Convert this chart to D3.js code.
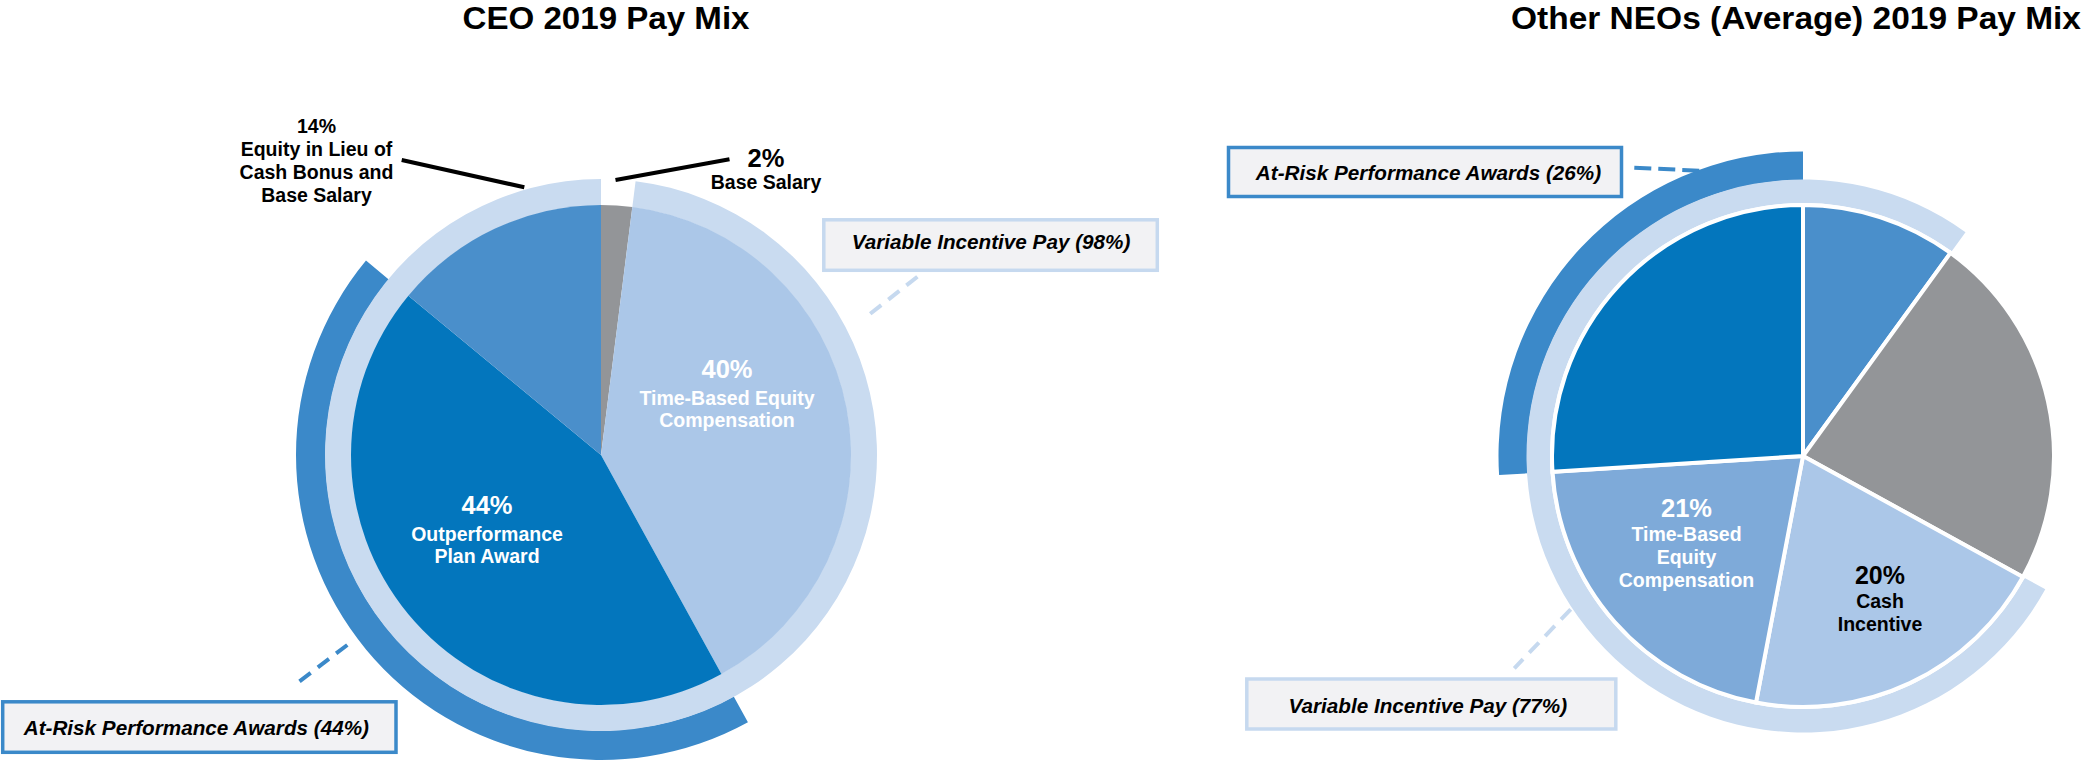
<!DOCTYPE html>
<html><head><meta charset="utf-8">
<script src="https://cdn.jsdelivr.net/npm/d3@7"></script>
<style>
html,body{margin:0;padding:0;background:#fff;}
svg{display:block;font-family:"Liberation Sans",Arial,Helvetica,sans-serif;}
</style>
</head><body>
<svg id="chart" width="2083" height="761"></svg>
<script>
// ---------------- DATA ----------------
const titles = ["CEO 2019 Pay Mix", "Other NEOs (Average) 2019 Pay Mix"];

const ceoCategories = ["Base Salary", "Time-Based Equity Compensation", "Outperformance Plan Award", "Equity in Lieu of Cash Bonus and Base Salary"];
const ceoValues = [2, 40, 44, 14];
const ceoVariableIncentive = ["Time-Based Equity Compensation", "Outperformance Plan Award", "Equity in Lieu of Cash Bonus and Base Salary"];
const ceoAtRisk = ["Outperformance Plan Award"];

const neoCategories = ["Other Equity", "Base Salary", "Cash Incentive", "Time-Based Equity Compensation", "At-Risk Performance Awards"];
const neoValues = [10, 23, 20, 21, 26];
const neoVariableIncentive = ["Cash Incentive", "Time-Based Equity Compensation", "At-Risk Performance Awards", "Other Equity"];
const neoAtRisk = ["At-Risk Performance Awards"];

const ringNames = ["Variable Incentive Pay", "At-Risk Performance Awards"];

// ---------------- STYLE / LAYOUT ----------------
const colors = {
  "Base Salary": "#939598",
  "Time-Based Equity Compensation": "#abc7e8",
  "Outperformance Plan Award": "#0376bd",
  "Equity in Lieu of Cash Bonus and Base Salary": "#4a8fcb",
  "Other Equity": "#4a8fcb",
  "Cash Incentive": "#abc7e8",
  "At-Risk Performance Awards": "#0376bd"
};
const neoColorOverride = {"Time-Based Equity Compensation": "#7eaad9"};
const ringLight = "#c9dbf0", ringDark = "#3b89c9", boxFill = "#f2f2f4", boxLightStroke = "#c6d9ef";

const svg = d3.select("#chart");
svg.append("rect").attr("width", 2083).attr("height", 761).attr("fill", "#fff");

const pie = d3.pie().sort(null).value(d => d.value).startAngle(0).endAngle(2 * Math.PI);

function ringSpan(arcs, covered) {
  const n = arcs.length;
  const isCov = i => covered.includes(arcs[i].data.name);
  let startIdx = -1;
  for (let i = 0; i < n; i++) {
    if (isCov(i) && !isCov((i - 1 + n) % n)) { startIdx = i; break; }
  }
  if (startIdx < 0) startIdx = 0;
  const total = d3.sum(arcs, a => a.data.value);
  const covSum = d3.sum(arcs.filter((a, i) => isCov(i)), a => a.data.value);
  const start = arcs[startIdx].startAngle;
  return {startAngle: start, endAngle: start + covSum / total * 2 * Math.PI, value: covSum};
}

function fmt(v) { return Math.round(v) + "%"; }

function drawChart(cfg) {
  const g = svg.append("g").attr("transform", `translate(${cfg.cx},${cfg.cy})`);
  const data = cfg.categories.map((c, i) => ({name: c, value: cfg.values[i]}));
  const arcs = pie(data);

  // rings
  const light = ringSpan(arcs, cfg.variable);
  const dark = ringSpan(arcs, cfg.atRisk);
  const lightArc = d3.arc().innerRadius(cfg.ringInner).outerRadius(cfg.ringMid);
  const darkArc = d3.arc().innerRadius(cfg.ringMid - 0.5).outerRadius(cfg.ringOuter);
  g.append("path").attr("d", darkArc(dark)).attr("fill", ringDark);
  g.append("path").attr("d", lightArc(light)).attr("fill", ringLight);

  // slices
  const arcGen = d3.arc().innerRadius(0).outerRadius(cfg.r);
  g.selectAll("path.slice").data(arcs).enter().append("path")
    .attr("class", "slice")
    .attr("d", arcGen)
    .attr("fill", d => (cfg.override && cfg.override[d.data.name]) || colors[d.data.name])
    .attr("stroke", cfg.sliceStroke ? "#fff" : "none")
    .attr("stroke-width", cfg.sliceStroke || 0)
    .attr("stroke-linejoin", "miter");

  // title
  svg.append("text").attr("x", cfg.titleX).attr("y", 28.5).attr("text-anchor", "middle")
    .attr("font-size", 31).attr("font-weight", "bold").attr("fill", "#000")
    .attr("textLength", cfg.titleW).attr("lengthAdjust", "spacingAndGlyphs")
    .text(cfg.title);

  // slice labels
  cfg.labels.forEach(L => {
    const arc = arcs.find(a => a.data.name === L.name);
    const t = g.append("text").attr("text-anchor", "middle").attr("font-weight", "bold").attr("fill", L.color);
    t.append("tspan").attr("x", L.dx).attr("y", L.dy).attr("font-size", L.pctSize).text(fmt(arc.data.value));
    L.lines.forEach((ln, k) => {
      t.append("tspan").attr("x", L.dx).attr("y", L.dy + L.firstGap + k * L.lineGap).attr("font-size", 19.5).text(ln);
    });
    if (L.leader) {
      g.append("line").attr("x1", L.leader[0]).attr("y1", L.leader[1]).attr("x2", L.leader[2]).attr("y2", L.leader[3])
        .attr("stroke", "#000").attr("stroke-width", 4);
    }
  });

  // boxes
  const spans = [light, dark];
  cfg.boxes.forEach(B => {
    const span = spans[B.ring];
    const stroke = B.ring === 0 ? boxLightStroke : ringDark;
    g.append("line").attr("x1", B.leader[0]).attr("y1", B.leader[1]).attr("x2", B.leader[2]).attr("y2", B.leader[3])
      .attr("stroke", stroke).attr("stroke-width", 4).attr("stroke-dasharray", B.dash);
    g.append("rect").attr("x", B.x).attr("y", B.y).attr("width", B.w).attr("height", B.h)
      .attr("fill", boxFill).attr("stroke", stroke).attr("stroke-width", 3.5);
    g.append("text").attr("x", B.x + B.w / 2 + B.tdx).attr("y", B.y + B.ty).attr("text-anchor", "middle")
      .attr("font-size", 20.7).attr("font-weight", "bold").attr("font-style", "italic").attr("fill", "#000")
      .text(`${ringNames[B.ring]} (${fmt(span.value)})`);
  });
}

// CEO chart
const ceoCx = 601, ceoCy = 455;
drawChart({
  cx: ceoCx, cy: ceoCy, r: 250, ringInner: 249.5, ringMid: 276, ringOuter: 305,
  title: titles[0], titleX: 606, titleW: 287,
  categories: ceoCategories, values: ceoValues, variable: ceoVariableIncentive, atRisk: ceoAtRisk,
  sliceStroke: 0,
  labels: [
    {name: "Time-Based Equity Compensation", color: "#fff", dx: 727 - ceoCx, dy: 378 - ceoCy, pctSize: 25.5, firstGap: 27, lineGap: 22, lines: ["Time-Based Equity", "Compensation"]},
    {name: "Outperformance Plan Award", color: "#fff", dx: 487 - ceoCx, dy: 514 - ceoCy, pctSize: 25.5, firstGap: 27, lineGap: 22, lines: ["Outperformance", "Plan Award"]},
    {name: "Equity in Lieu of Cash Bonus and Base Salary", color: "#000", dx: 316.5 - ceoCx, dy: 133.3 - ceoCy, pctSize: 19.5, firstGap: 22.8, lineGap: 22.8,
      lines: ["Equity in Lieu of", "Cash Bonus and", "Base Salary"],
      leader: [401.7 - ceoCx, 160 - ceoCy, 524.3 - ceoCx, 187.3 - ceoCy]},
    {name: "Base Salary", color: "#000", dx: 766 - ceoCx, dy: 166.7 - ceoCy, pctSize: 25.5, firstGap: 22.6, lineGap: 22,
      lines: ["Base Salary"],
      leader: [615.5 - ceoCx, 180 - ceoCy, 729.5 - ceoCx, 159.3 - ceoCy]}
  ],
  boxes: [
    {ring: 0, x: 823.8 - ceoCx, y: 219.8 - ceoCy, w: 333.5, h: 50.5, ty: 29.5, tdx: 0.5, dash: "14,9",
      leader: [917.4 - ceoCx, 276.7 - ceoCy, 864.5 - ceoCx, 318.3 - ceoCy]},
    {ring: 1, x: 2.7 - ceoCx, y: 701.8 - ceoCy, w: 393.3, h: 50.5, ty: 33.2, tdx: -3, dash: "14,9",
      leader: [347.3 - ceoCx, 645 - ceoCy, 293.3 - ceoCx, 686 - ceoCy]}
  ]
});

// NEO chart
const neoCx = 1803, neoCy = 456;
drawChart({
  cx: neoCx, cy: neoCy, r: 251, ringInner: 253, ringMid: 276.5, ringOuter: 304.5,
  title: titles[1], titleX: 1796, titleW: 570,
  categories: neoCategories, values: neoValues, variable: neoVariableIncentive, atRisk: neoAtRisk,
  sliceStroke: 4, override: neoColorOverride,
  labels: [
    {name: "Time-Based Equity Compensation", color: "#fff", dx: 1686.5 - neoCx, dy: 516.7 - neoCy, pctSize: 25.5, firstGap: 24.3, lineGap: 23.2, lines: ["Time-Based", "Equity", "Compensation"]},
    {name: "Cash Incentive", color: "#000", dx: 1880 - neoCx, dy: 584 - neoCy, pctSize: 25, firstGap: 23.7, lineGap: 23, lines: ["Cash", "Incentive"]}
  ],
  boxes: [
    {ring: 1, x: 1228.5 - neoCx, y: 147.5 - neoCy, w: 393, h: 49, ty: 32.5, tdx: 3.5, dash: "17,7",
      leader: [1634.3 - neoCx, 167.7 - neoCy, 1700 - neoCx, 170.7 - neoCy]},
    {ring: 0, x: 1246.8 - neoCx, y: 679 - neoCy, w: 369, h: 50, ty: 34.3, tdx: -3.5, dash: "14,9",
      leader: [1570.7 - neoCx, 609.3 - neoCy, 1514.3 - neoCx, 668.3 - neoCy]}
  ]
});
</script>
</body></html>
